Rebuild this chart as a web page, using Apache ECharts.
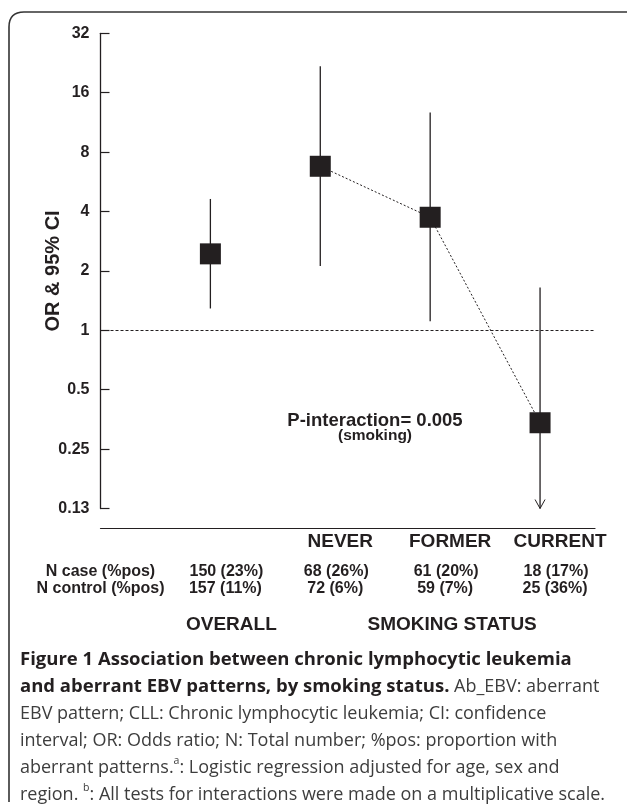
<!DOCTYPE html>
<html>
<head>
<meta charset="utf-8">
<script src="https://cdn.jsdelivr.net/npm/echarts@6/dist/echarts.min.js"></script>
<style>
  html, body { margin: 0; padding: 0; background: #ffffff; }
  #chart { width: 627px; height: 807px; }
</style>
</head>
<body>
<div id="chart"></div>
<script>
// ---- data ----
const categories = ['OVERALL', 'NEVER', 'FORMER', 'CURRENT'];
const categoryPos = [1, 2, 3, 4];
const orValues = [2.44, 6.78, 3.74, 0.34];
const ciLow = [1.29, 2.12, 1.11, 0.10];   // CURRENT lower bound runs off the scale (arrow)
const ciHigh = [4.63, 21.8, 12.7, 1.65];
const smokingIdx = [1, 2, 3];              // points joined by the dotted line
const nCase = ['150 (23%)', '68 (26%)', '61 (20%)', '18 (17%)'];
const nControl = ['157 (11%)', '72 (6%)', '59 (7%)', '25 (36%)'];
const rowLabels = ['N case (%pos)', 'N control (%pos)'];
const groupLabels = ['OVERALL', 'SMOKING STATUS'];
const yTicks = [0.125, 0.25, 0.5, 1, 2, 4, 8, 16, 32];
const yTickLabels = ['0.13', '0.25', '0.5', '1', '2', '4', '8', '16', '32'];
const yTitle = 'OR & 95% CI';
const pText = 'P-interaction= 0.005';
const pSub = '(smoking)';
const captionLines = [
  '{b|Figure 1 Association between chronic lymphocytic leukemia}',
  '{b|and aberrant EBV patterns, by smoking status.}{n| Ab_EBV: aberrant}',
  '{n|EBV pattern; CLL: Chronic lymphocytic leukemia; CI: confidence}',
  '{n|interval; OR: Odds ratio; N: Total number; %pos: proportion with}',
  '{n|aberrant patterns.}{s|a}{n|: Logistic regression adjusted for age, sex and}',
  '{n|region. }{s|b}{n|: All tests for interactions were made on a multiplicative scale.}'
];

const INK = '#231f20';
const FONT = '"Liberation Sans", Arial, Helvetica, sans-serif';
const CAPFONT = '"Open Sans", "Noto Sans", sans-serif';
const yMin = yTicks[0], yMax = yTicks[yTicks.length - 1];

const chart = echarts.init(document.getElementById('chart'), null, { renderer: 'canvas' });

const option = {
  backgroundColor: '#ffffff',
  animation: false,
  grid: { left: 100.5, right: 32, top: 33.3, bottom: 298.5, containLabel: false },
  xAxis: {
    type: 'value', min: 0, max: 4.5, position: 'bottom', offset: 20,
    axisLine: { show: true, lineStyle: { color: INK, width: 1.2 } },
    axisTick: { show: false }, axisLabel: { show: false }, splitLine: { show: false }
  },
  yAxis: {
    type: 'log', logBase: 2, min: yMin, max: yMax, splitNumber: 8,
    axisLine: { show: true, lineStyle: { color: INK, width: 1.3 } },
    axisTick: { show: true, inside: true, length: 9, lineStyle: { color: INK, width: 1.2 } },
    axisLabel: {
      color: INK, fontFamily: FONT, fontWeight: 'bold', fontSize: 16, margin: 11,
      formatter: function (v) {
        const i = Math.round(Math.log2(v)) - Math.round(Math.log2(yMin));
        return yTickLabels[i] !== undefined ? yTickLabels[i] : '';
      }
    },
    splitLine: { show: false },
    name: yTitle, nameLocation: 'middle', nameGap: 37, nameRotate: 90,
    nameMoveOverlap: false,
    nameTextStyle: { color: INK, fontFamily: FONT, fontWeight: 'bold', fontSize: 20 }
  },
  series: [
    {
      type: 'custom', name: 'ci', clip: false, z: 2,
      encode: { x: 0, y: [1, 2] },
      data: categoryPos.map((x, i) => [x, ciLow[i], ciHigh[i]]),
      renderItem: function (params, api) {
        const x = api.value(0), lo = api.value(1), hi = api.value(2);
        const cs = params.coordSys;
        const top = api.coord([x, hi]);
        let by, arrow = false;
        if (lo < yMin) { by = cs.y + cs.height; arrow = true; }
        else { by = api.coord([x, lo])[1]; }
        const px = top[0];
        const children = [{
          type: 'line',
          shape: { x1: px, y1: top[1], x2: px, y2: by },
          style: { stroke: INK, lineWidth: 1.3 }
        }];
        if (arrow) {
          children.push({
            type: 'polyline',
            shape: { points: [[px - 5, by - 9], [px, by], [px + 5, by - 9]] },
            style: { stroke: INK, lineWidth: 1, fill: 'none' }
          });
        }
        return { type: 'group', children: children };
      }
    },
    {
      type: 'line', name: 'trend', z: 3,
      data: smokingIdx.map(i => [categoryPos[i], orValues[i]]),
      symbol: 'none',
      lineStyle: { color: INK, width: 1, type: [2, 2] },
      markLine: {
        silent: true, symbol: 'none', label: { show: false },
        lineStyle: { color: INK, width: 1, type: [3, 2] },
        data: [{ yAxis: 1 }]
      }
    },
    {
      type: 'scatter', name: 'OR', z: 4,
      symbol: 'rect', symbolSize: 21,
      itemStyle: { color: INK, opacity: 1 },
      data: categoryPos.map((x, i) => [x, orValues[i]])
    }
  ]
};
chart.setOption(option);

// ---- text placed relative to the axis positions ----
function px(v) { return chart.convertToPixel({ xAxisIndex: 0 }, v); }
const graphics = [];
function txt(text, x, y, size, align) {
  graphics.push({
    type: 'text', x: x, y: y, silent: true,
    style: {
      text: text, fill: INK, font: 'bold ' + size + 'px ' + FONT,
      textAlign: align || 'center', textVerticalAlign: 'middle'
    }
  });
}
// border (open at right and bottom, rounded top-left corner)
const BORDER = { stroke: '#333333', lineWidth: 1.6, fill: null };
graphics.push({ type: 'line', silent: true, shape: { x1: 9, y1: 802, x2: 9, y2: 27 }, style: BORDER });
graphics.push({ type: 'bezierCurve', silent: true, shape: { x1: 9, y1: 27, cpx1: 9, cpy1: 12, x2: 24, y2: 12 }, style: BORDER });
graphics.push({ type: 'line', silent: true, shape: { x1: 24, y1: 12, x2: 627, y2: 12 }, style: BORDER });
// P-interaction annotation
txt(pText, 375, 421, 18.5);
txt(pSub, 375, 436, 15.5);
// column headers (smoking categories)
for (let i = 1; i < categories.length; i++) {
  txt(categories[i], px(categoryPos[i]) + 20, 542, 19);
}
// N rows
txt(rowLabels[0], px(0), 572, 16);
txt(rowLabels[1], px(0), 589, 16);
for (let i = 0; i < categories.length; i++) {
  txt(nCase[i], px(categoryPos[i]) + 16, 572, 16);
  txt(nControl[i], px(categoryPos[i]) + 15, 589, 16);
}
// group labels
txt(groupLabels[0], px(1) + 21, 625, 19);
txt(groupLabels[1], px(3) + 22, 625, 19);
// caption
const capY = [660, 687, 714, 741, 768, 795];
captionLines.forEach((line, k) => {
  graphics.push({
    type: 'text', x: 20, y: capY[k], silent: true,
    style: {
      text: line, textAlign: 'left', textVerticalAlign: 'middle',
      rich: {
        b: { fontFamily: CAPFONT, fontWeight: 'bold', fontSize: 18.5, fill: INK, lineHeight: 24 },
        n: { fontFamily: CAPFONT, fontWeight: 'normal', fontSize: 18, fill: '#3d3d3d', lineHeight: 24 },
        s: { fontFamily: CAPFONT, fontWeight: 'normal', fontSize: 10.5, fill: '#3d3d3d', lineHeight: 24, verticalAlign: 'top', padding: [0, 0, 10, 0] }
      }
    }
  });
});
chart.setOption({ graphic: { elements: graphics } });
</script>
</body>
</html>
